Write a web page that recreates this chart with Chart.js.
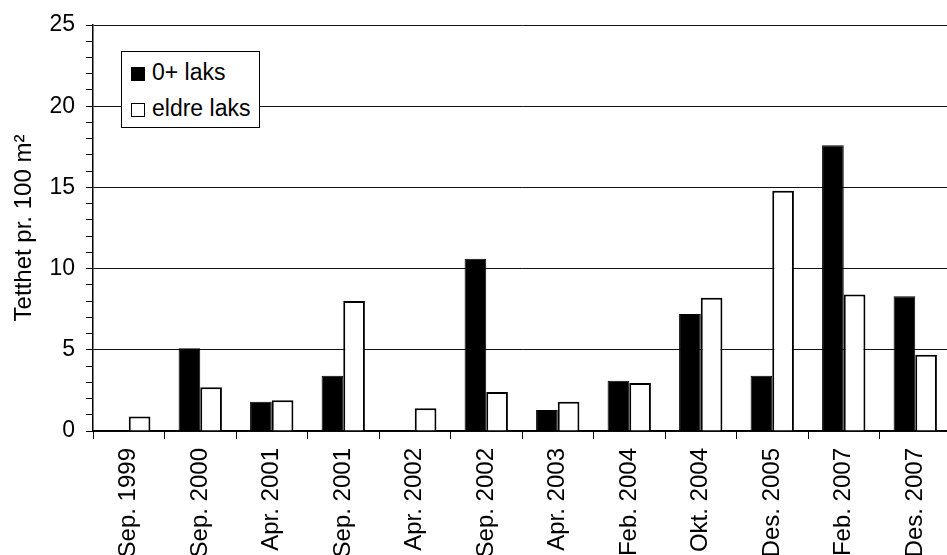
<!DOCTYPE html>
<html>
<head>
<meta charset="utf-8">
<script src="https://cdn.jsdelivr.net/npm/chart.js@4"></script>
<style>
  body { margin: 0; background: #fff; overflow: hidden; }
  /* figuren er litt beskåret til høyre, derfor bredere enn vinduet */
  #boks { position: relative; width: 960px; height: 555px; }
  #legende {
    position: absolute; left: 121px; top: 51px; width: 137px; height: 75px;
    border: 1px solid #000; background: #fff;
    font-family: "Liberation Sans", Arial, sans-serif; font-size: 23px; color: #000;
  }
  .rad { position: absolute; left: 9px; height: 26px; line-height: 26px; white-space: nowrap; }
  .rute { display: inline-block; width: 12px; height: 12px; border: 1px solid #000; margin-right: 7px; vertical-align: -1px; }
</style>
</head>
<body>
<div id="boks">
  <canvas id="grafikk"></canvas>
  <div id="legende">
    <div class="rad" style="top:7px"><span class="rute" style="background:#000"></span>0+ laks</div>
    <div class="rad" style="top:43px"><span class="rute" style="background:#fff"></span>eldre laks</div>
  </div>
</div>
<script>
// data lest av figuren
var perioder = ['Sep. 1999', 'Sep. 2000', 'Apr. 2001', 'Sep. 2001', 'Apr. 2002', 'Sep. 2002',
                'Apr. 2003', 'Feb. 2004', 'Okt. 2004', 'Des. 2005', 'Feb. 2007', 'Des. 2007'];
var laks_0 = [0, 5.1, 1.8, 3.4, 0, 10.6, 1.3, 3.1, 7.2, 3.4, 17.6, 8.3];
var laks_eldre = [0.9, 2.7, 1.9, 8.0, 1.4, 2.4, 1.8, 2.95, 8.2, 14.8, 8.4, 4.7];
var y_ticks = [0, 5, 10, 15, 20, 25];

var font = 'Liberation Sans';

const ctx = document.getElementById('grafikk').getContext('2d');
const grafikk = new Chart(ctx, {
  type: 'bar',
  data: {
    labels: perioder,
    datasets: [{
      label: '0+ laks',
      data: laks_0,
      backgroundColor: '#000',
      borderColor: '#000',
      borderWidth: 1,
      barPercentage: 1,
      categoryPercentage: 0.606
    }, {
      label: 'eldre laks',
      data: laks_eldre,
      backgroundColor: '#fff',
      borderColor: '#000',
      borderWidth: 2,
      barPercentage: 1,
      categoryPercentage: 0.606
    }]
  },
  options: {
    responsive: true,
    maintainAspectRatio: false,
    animation: false,
    layout: { padding: { top: 25, right: 9, left: 0, bottom: 0 } },
    plugins: {
      legend: { display: false },
      tooltip: { enabled: false }
    },
    scales: {
      x: {
        grid: { offset: true, drawOnChartArea: false, color: '#000', tickLength: 8 },
        border: { color: '#000', width: 1.5 },
        ticks: {
          autoSkip: false, maxRotation: 90, minRotation: 90, padding: 9,
          color: '#000', font: { family: font, size: 24 }
        },
        afterFit: (scale) => { scale.height = 124; }
      },
      y: {
        min: 0,
        max: y_ticks[y_ticks.length - 1],
        grid: {
          color: (c) => (y_ticks.includes(c.tick.value) ? '#111' : 'rgba(0,0,0,0)'),
          tickColor: '#000',
          tickLength: 7
        },
        border: { color: '#000', width: 1.5 },
        ticks: {
          stepSize: 1, maxTicksLimit: 30, autoSkip: false, padding: 11,
          color: '#000', font: { family: font, size: 23 },
          callback: (v) => (y_ticks.includes(v) ? v : '')
        },
        title: {
          display: true,
          text: 'Tetthet pr. 100 m²',
          color: '#000',
          font: { family: font, size: 24 },
          padding: { top: 10, bottom: 0 }
        },
        afterFit: (scale) => { scale.width = 93; }
      }
    }
  }
});
</script>
</body>
</html>
